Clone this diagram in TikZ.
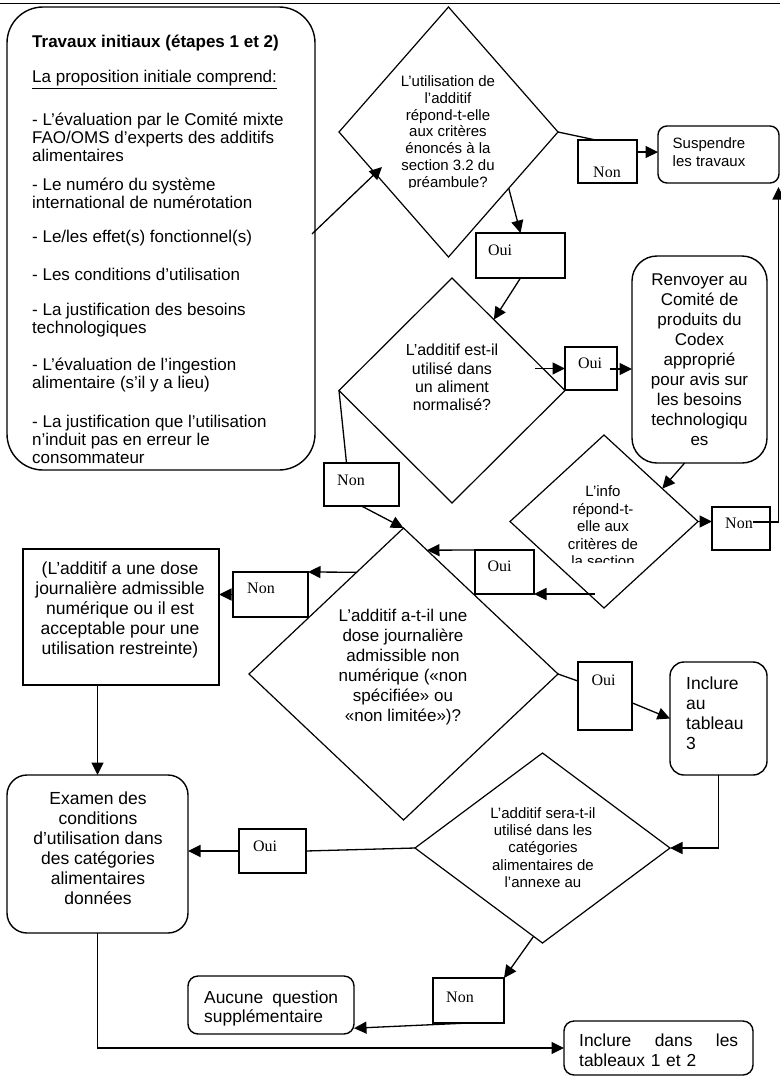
\documentclass[tikz,border=0pt]{standalone}
\usepackage{fontspec}
\setmainfont{Liberation Sans}
\newfontfamily\tnr{Liberation Serif}
\usetikzlibrary{shapes.geometric,arrows.meta,calc}
\newcommand{\myfs}[2]{\fontsize{#1}{#2}\selectfont}
\begin{document}
\begin{tikzpicture}[x=1pt,y=-1pt,
  shp/.style={draw, line width=1.4pt, inner sep=0pt, outer sep=0pt},
  rbox/.style={shp, rectangle},
  dbox/.style={shp, diamond, line width=1.2pt},
  txt/.style={inner sep=0pt, align=center},
  lab/.style={inner sep=0pt, font=\tnr\myfs{16}{18}},
  conn/.style={line width=1.3pt},
  arr/.style={conn, -{Triangle[length=12.5pt,width=12pt]}}]
\useasboundingbox (0,0) rectangle (780,1077);
% page rule
\draw[line width=1.4pt] (0,3.5) -- (780,3.5);

% ---------- shapes ----------
\node[rbox, rounded corners=36pt, minimum width=308pt, minimum height=463pt] (b0) at (161,238.5) {};
\node[dbox, minimum width=219pt, minimum height=250pt] (d1) at (448.5,132) {};
\node[rbox, rounded corners=9pt, minimum width=121pt, minimum height=57pt] (susp) at (718.5,154.5) {};
\node[rbox, minimum width=59pt, minimum height=43pt] (l1) at (607.5,161.5) {};
\node[rbox, minimum width=89pt, minimum height=45pt] (l2) at (520.5,255.5) {};
\node[dbox, minimum width=226pt, minimum height=225pt] (d2) at (452,390.5) {};
\node[rbox, minimum width=52pt, minimum height=43pt] (l3) at (591,368.5) {};
\node[rbox, rounded corners=25pt, minimum width=135pt, minimum height=207pt] (r1) at (699.5,359.5) {};
\node[dbox, minimum width=188pt, minimum height=173pt] (d3) at (604,521.5) {};
\node[rbox, minimum width=58pt, minimum height=43pt] (l4) at (741,528.5) {};
\node[rbox, minimum width=59pt, minimum height=44pt] (l5) at (504.5,572) {};
\node[rbox, minimum width=75pt, minimum height=43pt] (l10) at (361.5,484.5) {};
\node[dbox, minimum width=309pt, minimum height=292pt] (d4) at (403.5,674) {};
\node[rbox, minimum width=75pt, minimum height=45pt] (l6) at (270.5,594.5) {};
\node[rbox, minimum width=196pt, minimum height=136pt] (b2) at (121,617) {};
\node[rbox, rounded corners=20pt, minimum width=181pt, minimum height=158pt] (b3) at (97.5,854) {};
\node[rbox, minimum width=54pt, minimum height=68pt] (l8) at (605,696) {};
\node[rbox, rounded corners=14pt, minimum width=97pt, minimum height=113pt] (r2) at (718.5,718.5) {};
\node[rbox, minimum width=67pt, minimum height=44pt] (l7) at (272.5,851) {};
\node[dbox, minimum width=255pt, minimum height=190pt] (d5) at (542.5,848) {};
\node[rbox, minimum width=71pt, minimum height=45pt] (l9) at (468.5,1000.5) {};
\node[rbox, rounded corners=10pt, minimum width=166pt, minimum height=58pt] (b4) at (271,1005) {};
\node[rbox, rounded corners=10pt, minimum width=189pt, minimum height=54pt] (b5) at (658.5,1048) {};

% ---------- texts ----------
\node[inner sep=0pt, anchor=north west, align=left, font=\myfs{17}{18}] (b0t) at (32,35.3) {%
\textbf{Travaux initiaux (étapes 1 et 2)}\\[17pt]
\underline{La proposition initiale comprend:}\\[23pt]
- L’évaluation par le Comité mixte\\FAO/OMS d’experts des additifs\\alimentaires\\[11pt]
- Le numéro du système\\international de numérotation\\[16pt]
- Le/les effet(s) fonctionnel(s)\\[20pt]
- Les conditions d’utilisation\\[17pt]
- La justification des besoins\\technologiques\\[19pt]
- L’évaluation de l’ingestion\\alimentaire (s’il y a lieu)\\[21pt]
- La justification que l’utilisation\\n’induit pas en erreur le\\consommateur};

\begin{scope}
\clip (300,0) rectangle (600,187);
\node[txt, font=\myfs{15}{16.8}] (d1t) at (448,133) {L’utilisation de\\l’additif\\répond-t-elle\\aux critères\\énoncés à la\\section 3.2 du\\préambule?};
\end{scope}
\node[txt, font=\myfs{15}{18}] (suspt) at (709,152.5) {Suspendre\\les travaux};
\begin{scope}
\clip (570,130) rectangle (650,176.5);
\node[lab] (l1t) at (607,172) {Non};
\end{scope}
\node[lab] (l2t) at (500,250) {Oui};
\node[txt, font=\myfs{16}{18.3}] (d2t) at (452,377.5) {L’additif est-il\\utilisé dans\\un aliment\\normalisé?};
\node[lab] (l3t) at (590,363) {Oui};
\node[txt, font=\myfs{17}{20}] (r1t) at (699.5,360) {Renvoyer au\\Comité de\\produits du\\Codex\\approprié\\pour avis sur\\les besoins\\technologiqu\\es};
\begin{scope}
\clip (500,440) rectangle (700,562);
\node[txt, font=\myfs{15}{17.5}] (d3t) at (603,526.5) {L’info\\répond-t-\\elle aux\\critères de\\la section};
\end{scope}
\node[lab] (l4t) at (739,523) {Non};
\node[lab] (l5t) at (499.5,566) {Oui};
\node[lab] (l10t) at (351,480) {Non};
\node[txt, font=\myfs{17}{20}] (d4t) at (403,667) {L’additif a-t-il une\\dose journalière\\admissible non\\numérique («non\\spécifiée» ou\\«non limitée»)?};
\node[lab] (l6t) at (261,588) {Non};
\node[txt, font=\myfs{17.5}{20}] (b2t) at (120,610) {(L’additif a une dose\\journalière admissible\\numérique ou il est\\acceptable pour une\\utilisation restreinte)};
\node[lab] (l8t) at (603.5,680) {Oui};
\node[inner sep=0pt, anchor=west, align=left, font=\myfs{17.5}{20}] (r2t) at (686,713) {Inclure\\au\\tableau\\3};
\node[txt, font=\myfs{17.5}{20}] (b3t) at (98,848) {Examen des\\conditions\\d’utilisation dans\\des catégories\\alimentaires\\données};
\node[lab] (l7t) at (265,846) {Oui};
\node[txt, font=\myfs{15}{17.4}] (d5t) at (543,847.5) {L’additif sera-t-il\\utilisé dans les\\catégories\\alimentaires de\\l’annexe au};
\node[lab] (l9t) at (460,997) {Non};
\node[inner sep=0pt, anchor=west, align=left, text width=134pt, font=\myfs{17.4}{19}] (b4t) at (204,1008) {Aucune\hfill question\\supplémentaire};
\node[inner sep=0pt, anchor=west, align=left, text width=159pt, font=\myfs{17.4}{20}] (b5t) at (579,1050) {Inclure\hfill dans\hfill les\\tableaux 1 et 2};

% ---------- connectors ----------
\coordinate (c1s) at (312,234);
\coordinate (c1e) at (382,167);
\draw[arr] (c1s) -- (c1e);
\draw[conn] (d1.east) -- ($(l1.north west)!0.3!(l1.north east)$);
\draw[arr] ($(l1.north east)!0.28!(l1.south east)$) -- ++(21,0);
\draw[arr] ($(d1.east)!0.45!(d1.south)$) -- (l2.north);
\draw[arr] (l2.south) -- ($(d2.north)!0.37!(d2.east)$);
\coordinate (c6) at (535,368.5);
\draw[arr] (c6) -- (l3.west);
\coordinate (c7) at (610,369);
\draw[arr] (c7) -- (c7 -| r1.west);
\draw[arr] ($(r1.south west)!0.39!(r1.south east)$) -- ($(d3.north)!0.62!(d3.east)$);
\draw[arr] (d3.east) -- (d3.east -| l4.west);
\coordinate (c10s) at (753,522);
\coordinate (c10c) at (778.5,522);
\coordinate (c10e) at (778.5,187);
\draw[arr] (c10s) -- (c10c) -- (c10e);
\coordinate (c11) at (595,594);
\draw[arr] (c11) -- (l5.south east);
\draw[arr] (l5.north west) -- ($(d4.north)!0.152!(d4.east)$);
\draw[conn] (d2.west) -- ($(l10.north west)!0.3!(l10.north east)$);
\draw[arr] (l10.south) -- (d4.north);
\draw[arr] ($(d4.north)!0.303!(d4.west)$) -- (l6.north east);
\draw[arr] (l6.west) -- (l6.west -| b2.east);
\draw[arr] (b2.south -| b3.north) -- (b3.north);
\draw[conn] (d4.east) -- ($(l8.north west)!0.28!(l8.south west)$);
\draw[arr] ($(l8.north east)!0.6!(l8.south east)$) -- (r2.west);
\draw[arr] (r2.south) |- (d5.east);
\draw[conn] (d5.west) -- (l7.east);
\draw[arr] (l7.west) -- (l7.west -| b3.east);
\draw[arr] ($(d5.south)!0.07!(d5.west)$) -- (l9.north east);
\draw[arr] (l9.south) -- ($(b4.north east)!0.9!(b4.south east)$);
\draw[arr] (b3.south) |- (b5.west);
\end{tikzpicture}
\end{document}
